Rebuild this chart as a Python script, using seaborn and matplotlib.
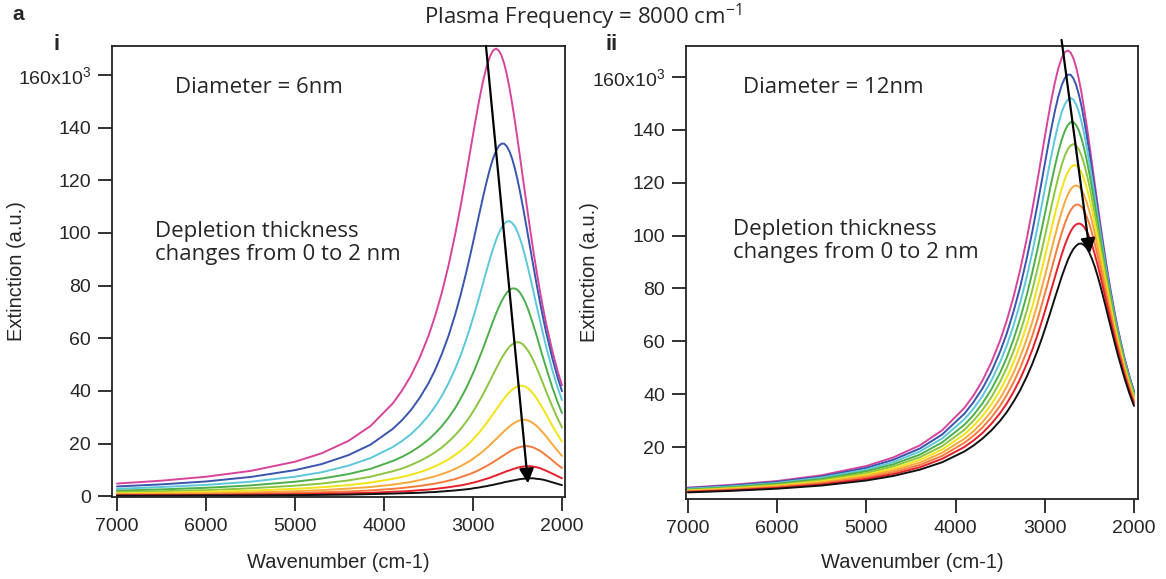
import matplotlib
matplotlib.use("Agg")
import matplotlib.pyplot as plt
import seaborn as sns
import pandas as pd

# ---------------- data (extinction in units of 10^3) ----------------
wavenumber = [7000, 6500, 6000, 5500, 5000, 4700, 4400, 4150, 3900, 3800, 3700, 3600, 3500, 3425,
              3350, 3275, 3200, 3140, 3080, 3030, 2980, 2935, 2890, 2850, 2810, 2775, 2740, 2710,
              2680, 2650, 2620, 2590, 2560, 2530, 2500, 2470, 2440, 2410, 2380, 2350, 2320, 2285,
              2250, 2215, 2180, 2110, 2050, 2000]

curve_names = ["0.0 nm", "0.2 nm", "0.4 nm", "0.6 nm", "0.8 nm", "1.0 nm", "1.2 nm", "1.4 nm",
               "1.6 nm", "2.0 nm"]
curve_colors = ["#D8449B", "#3A55AE", "#5DC7DB", "#4DAF49", "#8DC540", "#F2E416", "#F8A83C",
                "#F47B3B", "#E71F2A", "#111111"]

# panel i : diameter 6 nm
d6_0 = [4.8, 5.9, 7.4, 9.6, 13.1, 16.3, 21.0, 26.7, 35.3, 40.0, 45.6, 52.5, 60.9, 68.5, 77.3, 87.6, 99.5, 110.0, 121.4, 131.3, 141.1, 149.6, 157.2, 162.8, 167.0, 169.3, 170.0, 169.3, 167.4, 164.4, 160.2, 155.1, 149.2, 142.7, 135.7, 128.5, 121.1, 113.8, 106.6, 99.6, 92.8, 85.4, 78.4, 71.9, 65.9, 55.4, 47.7, 42.1]
d6_1 = [3.7, 4.5, 5.6, 7.3, 9.9, 12.2, 15.6, 19.6, 25.6, 28.8, 32.6, 37.3, 42.9, 48.0, 54.0, 60.9, 69.0, 76.3, 84.4, 91.7, 99.3, 106.3, 113.2, 119.0, 124.3, 128.2, 131.2, 133.0, 133.9, 133.9, 132.9, 131.0, 128.2, 124.6, 120.3, 115.4, 110.1, 104.5, 98.7, 92.9, 87.1, 80.5, 74.2, 68.2, 62.6, 52.6, 45.2, 39.9]
d6_2 = [2.8, 3.5, 4.3, 5.5, 7.4, 9.1, 11.6, 14.5, 18.7, 20.9, 23.5, 26.7, 30.6, 34.1, 38.1, 42.9, 48.4, 53.4, 59.1, 64.3, 69.8, 75.1, 80.5, 85.4, 90.1, 93.9, 97.4, 99.9, 102.0, 103.5, 104.3, 104.5, 103.8, 102.5, 100.4, 97.7, 94.4, 90.6, 86.5, 82.2, 77.7, 72.3, 67.1, 62.0, 57.1, 48.1, 41.4, 36.5]
d6_3 = [2.1, 2.6, 3.2, 4.1, 5.5, 6.7, 8.4, 10.4, 13.4, 14.9, 16.7, 18.9, 21.5, 23.9, 26.6, 29.8, 33.5, 37.0, 40.8, 44.4, 48.2, 52.0, 55.9, 59.5, 63.2, 66.4, 69.4, 71.8, 74.0, 75.8, 77.3, 78.4, 78.9, 78.9, 78.4, 77.2, 75.6, 73.5, 70.9, 68.0, 64.8, 61.0, 56.9, 52.9, 49.0, 41.5, 35.8, 31.6]
d6_4 = [1.6, 1.9, 2.3, 3.0, 4.0, 4.8, 6.0, 7.4, 9.5, 10.5, 11.8, 13.3, 15.1, 16.7, 18.5, 20.7, 23.2, 25.5, 28.1, 30.5, 33.2, 35.8, 38.5, 41.1, 43.8, 46.1, 48.5, 50.4, 52.3, 54.0, 55.5, 56.8, 57.7, 58.3, 58.5, 58.3, 57.7, 56.6, 55.2, 53.5, 51.4, 48.8, 46.0, 43.0, 40.0, 34.2, 29.6, 26.1]
d6_5 = [1.1, 1.3, 1.7, 2.1, 2.8, 3.4, 4.2, 5.2, 6.6, 7.3, 8.1, 9.1, 10.3, 11.4, 12.6, 14.0, 15.7, 17.2, 18.9, 20.5, 22.3, 24.0, 25.9, 27.7, 29.5, 31.2, 32.9, 34.3, 35.8, 37.1, 38.4, 39.5, 40.5, 41.2, 41.7, 42.0, 41.9, 41.6, 40.9, 40.0, 38.8, 37.2, 35.3, 33.3, 31.2, 26.9, 23.4, 20.7]
d6_6 = [0.8, 0.9, 1.1, 1.4, 1.9, 2.3, 2.9, 3.5, 4.4, 4.9, 5.4, 6.1, 6.9, 7.6, 8.4, 9.3, 10.4, 11.4, 12.5, 13.5, 14.7, 15.8, 17.0, 18.2, 19.4, 20.6, 21.7, 22.7, 23.7, 24.7, 25.6, 26.5, 27.3, 27.9, 28.5, 28.8, 29.0, 29.0, 28.7, 28.3, 27.6, 26.7, 25.5, 24.2, 22.8, 19.8, 17.3, 15.3]
d6_7 = [0.5, 0.6, 0.7, 0.9, 1.2, 1.5, 1.8, 2.2, 2.8, 3.1, 3.5, 3.9, 4.4, 4.8, 5.3, 5.9, 6.5, 7.2, 7.9, 8.5, 9.2, 9.9, 10.7, 11.4, 12.2, 12.9, 13.7, 14.3, 15.0, 15.6, 16.3, 16.9, 17.5, 18.0, 18.4, 18.7, 18.9, 19.0, 19.0, 18.8, 18.5, 17.9, 17.3, 16.5, 15.6, 13.7, 12.0, 10.7]
d6_8 = [0.3, 0.4, 0.4, 0.6, 0.7, 0.9, 1.1, 1.3, 1.7, 1.8, 2.0, 2.3, 2.5, 2.8, 3.1, 3.4, 3.8, 4.1, 4.5, 4.9, 5.3, 5.7, 6.2, 6.6, 7.0, 7.5, 7.9, 8.3, 8.7, 9.1, 9.5, 9.8, 10.2, 10.5, 10.8, 11.1, 11.2, 11.4, 11.4, 11.4, 11.2, 11.0, 10.7, 10.2, 9.7, 8.6, 7.6, 6.8]
d6_9 = [0.2, 0.2, 0.3, 0.3, 0.4, 0.5, 0.6, 0.8, 1.0, 1.1, 1.2, 1.3, 1.5, 1.6, 1.8, 2.0, 2.2, 2.4, 2.6, 2.8, 3.1, 3.3, 3.6, 3.8, 4.1, 4.3, 4.6, 4.8, 5.0, 5.3, 5.5, 5.7, 5.9, 6.1, 6.3, 6.5, 6.6, 6.7, 6.8, 6.8, 6.8, 6.6, 6.5, 6.3, 6.0, 5.3, 4.7, 4.2]

# panel ii : diameter 12 nm
d12_0 = [4.7, 5.8, 7.2, 9.4, 12.9, 16.1, 20.7, 26.4, 34.9, 39.5, 45.1, 52.0, 60.4, 68.0, 76.9, 87.2, 99.2, 109.8, 121.3, 131.3, 141.2, 149.8, 157.4, 163.1, 167.2, 169.4, 170.0, 169.2, 167.1, 163.9, 159.5, 154.3, 148.2, 141.6, 134.5, 127.1, 119.7, 112.3, 105.1, 98.1, 91.4, 83.9, 77.0, 70.6, 64.7, 54.2, 46.7, 41.2]
d12_1 = [4.5, 5.5, 6.9, 8.9, 12.2, 15.2, 19.5, 24.8, 32.7, 37.0, 42.1, 48.4, 56.2, 63.1, 71.3, 80.7, 91.7, 101.5, 112.1, 121.4, 130.8, 139.1, 146.6, 152.4, 156.9, 159.6, 160.9, 160.8, 159.5, 157.1, 153.6, 149.2, 143.9, 137.9, 131.4, 124.7, 117.7, 110.7, 103.8, 97.0, 90.5, 83.2, 76.4, 70.1, 64.3, 53.9, 46.4, 41.0]
d12_2 = [4.3, 5.2, 6.5, 8.5, 11.5, 14.3, 18.4, 23.3, 30.6, 34.5, 39.3, 45.1, 52.2, 58.5, 66.0, 74.7, 84.7, 93.7, 103.5, 112.2, 121.0, 128.8, 136.1, 141.9, 146.7, 149.7, 151.5, 152.0, 151.4, 149.7, 147.0, 143.3, 138.7, 133.4, 127.6, 121.4, 114.9, 108.3, 101.8, 95.3, 89.0, 82.0, 75.4, 69.2, 63.5, 53.3, 45.9, 40.5]
d12_3 = [4.0, 4.9, 6.2, 8.0, 10.9, 13.5, 17.2, 21.8, 28.5, 32.1, 36.5, 41.8, 48.2, 54.0, 60.8, 68.7, 77.8, 86.1, 95.1, 103.1, 111.3, 118.7, 125.7, 131.4, 136.3, 139.6, 141.9, 142.9, 142.9, 141.9, 139.9, 136.9, 133.1, 128.6, 123.4, 117.8, 111.8, 105.7, 99.5, 93.4, 87.4, 80.7, 74.3, 68.2, 62.6, 52.6, 45.3, 40.0]
d12_4 = [3.8, 4.7, 5.8, 7.5, 10.2, 12.7, 16.2, 20.4, 26.6, 30.0, 34.0, 38.8, 44.8, 50.1, 56.3, 63.5, 71.8, 79.4, 87.7, 95.0, 102.7, 109.6, 116.4, 121.9, 126.8, 130.3, 132.8, 134.1, 134.6, 134.1, 132.7, 130.4, 127.3, 123.3, 118.8, 113.7, 108.3, 102.7, 96.9, 91.1, 85.4, 78.9, 72.8, 66.9, 61.5, 51.7, 44.5, 39.3]
d12_5 = [3.6, 4.4, 5.5, 7.1, 9.6, 11.9, 15.2, 19.1, 24.9, 28.0, 31.7, 36.1, 41.6, 46.4, 52.1, 58.7, 66.3, 73.2, 80.8, 87.6, 94.8, 101.3, 107.6, 113.0, 117.8, 121.4, 124.1, 125.8, 126.6, 126.6, 125.7, 124.0, 121.4, 118.1, 114.1, 109.6, 104.7, 99.5, 94.2, 88.7, 83.3, 77.2, 71.3, 65.6, 60.3, 50.8, 43.8, 38.7]
d12_6 = [3.4, 4.2, 5.2, 6.7, 9.1, 11.2, 14.2, 17.9, 23.2, 26.0, 29.4, 33.5, 38.5, 43.0, 48.1, 54.2, 61.1, 67.4, 74.4, 80.7, 87.2, 93.3, 99.3, 104.4, 109.1, 112.7, 115.6, 117.5, 118.6, 119.0, 118.6, 117.4, 115.4, 112.6, 109.2, 105.3, 100.9, 96.1, 91.2, 86.1, 81.1, 75.2, 69.6, 64.2, 59.0, 49.8, 42.9, 37.9]
d12_7 = [3.2, 3.9, 4.9, 6.3, 8.5, 10.5, 13.3, 16.7, 21.7, 24.3, 27.4, 31.2, 35.7, 39.8, 44.5, 50.0, 56.4, 62.1, 68.5, 74.3, 80.3, 86.0, 91.6, 96.5, 101.0, 104.6, 107.6, 109.6, 111.0, 111.7, 111.7, 111.0, 109.5, 107.2, 104.4, 100.9, 97.0, 92.7, 88.2, 83.5, 78.8, 73.3, 67.9, 62.7, 57.8, 48.8, 42.1, 37.2]
d12_8 = [3.1, 3.7, 4.6, 5.9, 8.0, 9.8, 12.4, 15.6, 20.1, 22.5, 25.3, 28.8, 32.9, 36.6, 40.9, 45.9, 51.6, 56.8, 62.6, 67.9, 73.5, 78.7, 83.9, 88.5, 92.9, 96.4, 99.4, 101.6, 103.2, 104.2, 104.6, 104.3, 103.3, 101.6, 99.3, 96.4, 93.0, 89.2, 85.1, 80.8, 76.4, 71.3, 66.2, 61.2, 56.5, 47.8, 41.3, 36.5]
d12_9 = [2.9, 3.5, 4.3, 5.5, 7.4, 9.1, 11.5, 14.3, 18.4, 20.6, 23.2, 26.3, 30.0, 33.3, 37.2, 41.6, 46.8, 51.5, 56.7, 61.4, 66.5, 71.2, 76.1, 80.3, 84.5, 87.8, 90.9, 93.1, 94.9, 96.1, 96.9, 97.0, 96.4, 95.3, 93.5, 91.1, 88.3, 85.0, 81.4, 77.5, 73.5, 68.7, 64.0, 59.3, 54.8, 46.5, 40.2, 35.6]

panel_i = [d6_0, d6_1, d6_2, d6_3, d6_4, d6_5, d6_6, d6_7, d6_8, d6_9]
panel_ii = [d12_0, d12_1, d12_2, d12_3, d12_4, d12_5, d12_6, d12_7, d12_8, d12_9]

yticks_i = [0, 20, 40, 60, 80, 100, 120, 140, 160]
yticks_ii = [20, 40, 60, 80, 100, 120, 140, 160]
xticks = [7000, 6000, 5000, 4000, 3000, 2000]

# arrows (start, end) in data units
arrow_i = ((2854, 171.0), (2382, 4.9))
arrow_ii = ((2812, 174.0), (2494, 93.4))

# ---------------- style ----------------
sns.set_style("ticks")
TICK_FONT = "Liberation Sans"
TEXT_FONT = "Open Sans"
plt.rcParams["font.family"] = [TICK_FONT, "DejaVu Sans"]
plt.rcParams["mathtext.fontset"] = "custom"
plt.rcParams["mathtext.rm"] = TICK_FONT
plt.rcParams["mathtext.default"] = "regular"


def long_frame(series):
    rows = []
    for name, vals in zip(curve_names, series):
        if len(vals) != len(wavenumber):
            raise ValueError(f"length mismatch for {name}: {len(vals)}")
        for x, y in zip(wavenumber, vals):
            rows.append({"wavenumber": x, "extinction": y, "curve": name})
    return pd.DataFrame(rows)


fig = plt.figure(figsize=(11.66, 5.79), dpi=100)
ax1 = fig.add_axes([112 / 1166, 1 - 497 / 579, 453 / 1166, 451 / 579])
ax2 = fig.add_axes([686 / 1166, 1 - 499 / 579, 452 / 1166, 453 / 579])

panels = [
    (ax1, panel_i, (7056, 1966), (-0.3, 171.0), yticks_i, arrow_i, "Diameter = 6nm",
     (0.139, 0.909), (0.095, 0.563), (-0.190, 0.5), (0.5, -0.124)),
    (ax2, panel_ii, (7022, 1955), (0.4, 171.7), yticks_ii, arrow_ii, "Diameter = 12nm",
     (0.126, 0.909), (0.104, 0.570), (-0.192, 0.5), (0.5, -0.119)),
]

for ax, series, xl, yl, yt, arr, dtext, dpos, tpos, ylc, xlc in panels:
    df = long_frame(series)
    sns.lineplot(data=df, x="wavenumber", y="extinction", hue="curve", hue_order=curve_names,
                 palette=curve_colors, legend=False, ax=ax, linewidth=1.4, estimator=None,
                 solid_joinstyle="round")
    ax.set_xlim(*xl)
    ax.set_ylim(*yl)
    ax.set_xticks(xticks)
    ax.set_xticklabels([str(t) for t in xticks])
    ax.set_yticks(yt)
    ax.set_yticklabels(["160x10$^3$" if t == 160 else str(t) for t in yt])
    for s in ax.spines.values():
        s.set_visible(True)
        s.set_linewidth(1.3)
        s.set_color("#222222")
    ax.tick_params(axis="both", direction="out", length=10, width=1.3, color="#222222",
                   labelsize=14, pad=5, top=False, right=False)
    ax.set_xlabel("Wavenumber (cm-1)", fontsize=14.5)
    ax.set_ylabel("Extinction (a.u.)", fontsize=14.5)
    ax.yaxis.set_label_coords(*ylc)
    ax.xaxis.set_label_coords(*xlc)
    ax.annotate("", xy=arr[1], xytext=arr[0], annotation_clip=False,
                arrowprops=dict(arrowstyle="-|>", color="black", lw=1.6, mutation_scale=22,
                                shrinkA=0, shrinkB=0))
    ax.text(dpos[0], dpos[1], dtext, transform=ax.transAxes, fontsize=16, family=TEXT_FONT,
            va="center", ha="left")
    ax.text(tpos[0], tpos[1], "Depletion thickness\nchanges from 0 to 2 nm", transform=ax.transAxes,
            fontsize=16, family=TEXT_FONT, va="center", ha="left", linespacing=1.15)

fig.text(583 / 1166, 1 - 17 / 579, "Plasma Frequency = 8000 cm$^{-1}$", fontsize=16, family=TEXT_FONT,
         ha="center", va="center")
fig.text(12 / 1166, 1 - 15 / 579, "a", fontsize=15, fontweight="bold", family=TICK_FONT,
         ha="left", va="center")
fig.text(57 / 1166, 1 - 44 / 579, "i", fontsize=16, fontweight="bold", family=TICK_FONT,
         ha="center", va="center")
fig.text(612 / 1166, 1 - 44 / 579, "ii", fontsize=16, fontweight="bold", family=TICK_FONT,
         ha="center", va="center")

fig.savefig("out.png", dpi=100, facecolor="white")
